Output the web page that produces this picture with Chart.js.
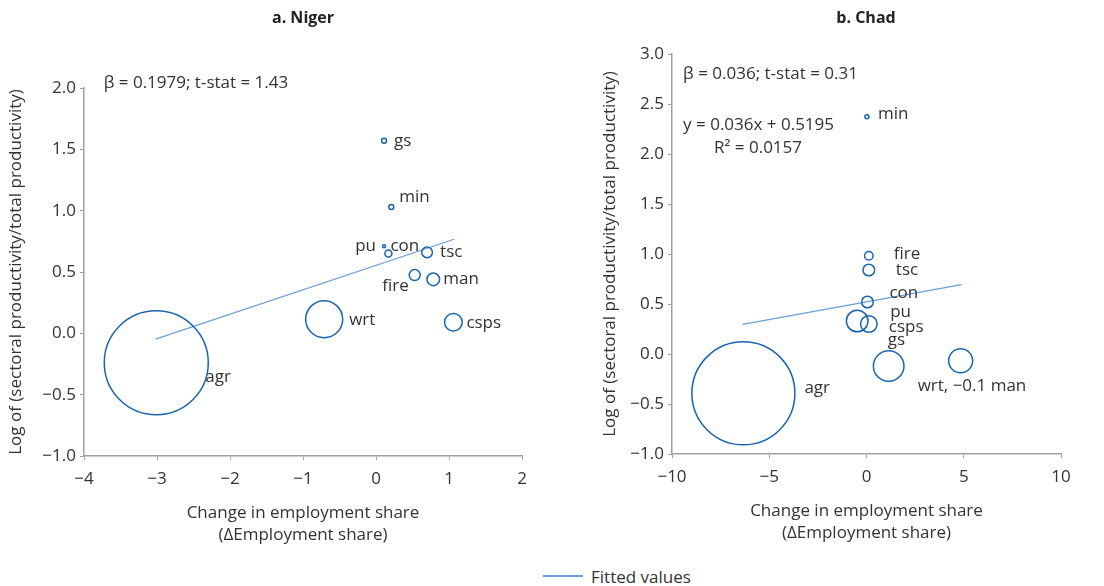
<!DOCTYPE html>
<html>
<head>
<meta charset="utf-8">
<script src="https://cdn.jsdelivr.net/npm/chart.js@4"></script>
<style>
  body { margin: 0; background: #fff; width: 1104px; height: 586px; position: relative; overflow: hidden;
         font-family: 'Open Sans', sans-serif; color: #333; }
  .panel { position: absolute; top: 0; width: 552px; height: 560px; }
  .title { position: absolute; top: 7px; width: 200px; text-align: center; font-weight: bold; font-size: 16px; line-height: 20px; color: #222; }
  #legend { position: absolute; left: 543px; top: 564px; height: 24px; display: flex; align-items: center; font-size: 17px; }
  #legend span.line { display: inline-block; width: 40px; height: 1.5px; background: #6a9fd8; margin-right: 8px; }
</style>
</head>
<body>
<div class="panel" style="left:0"><canvas id="niger" width="552" height="560"></canvas></div>
<div class="panel" style="left:552px"><canvas id="chad" width="552" height="560"></canvas></div>
<div class="title" style="left:203px">a. Niger</div>
<div class="title" style="left:766px">b. Chad</div>
<div id="legend"><span class="line"></span>Fitted values</div>
<script>
// Niger
const nigerSectors = ['gs', 'min', 'pu', 'con', 'tsc', 'fire', 'man', 'wrt', 'csps', 'agr'];
const nigerShareChange = [0.11, 0.21, 0.11, 0.17, 0.70, 0.53, 0.785, -0.71, 1.06, -3.01];
const nigerLogProd = [1.57, 1.03, 0.71, 0.65, 0.66, 0.475, 0.44, 0.115, 0.09, -0.24];
const nigerBubble = [2.5, 2.5, 1.5, 3.5, 5.3, 5.5, 6.3, 18.5, 8.8, 52];
const nigerFitX = [-3.02, 1.07];
const nigerFitY = [-0.047, 0.767];

// Chad
const chadSectors = ['min', 'fire', 'tsc', 'con', 'pu', 'csps', 'gs', 'wrt, \u22120.1 man', 'agr'];
const chadShareChange = [0.02, 0.12, 0.12, 0.05, -0.48, 0.12, 1.14, 4.84, -6.33];
const chadLogProd = [2.373, 0.983, 0.84, 0.52, 0.33, 0.30, -0.12, -0.067, -0.393];
const chadBubble = [2, 4.3, 5.8, 5.8, 10.8, 8.3, 15.3, 12, 51.5];
const chadFitX = [-6.37, 4.89];
const chadFitY = [0.297, 0.693];

const xTitle = ['Change in employment share', '(\u0394Employment share)'];
const yTitle = 'Log of (sectoral productivity/total productivity)';

// label offsets from bubble centre (px) and alignment
const nigerLabelPos = [[10, 0], [8, -10], [-8, 0, 'right'], [2, -7], [13, 0], [-6, 11, 'right'], [10, 0], [25, 1], [13, 1], [49, 14]];
const chadLabelPos = [[11, -3], [25, -2], [27, 0], [22, -9], [33, -9], [20, 3], [-1, -26], [-43, 25], [61, -5]];

const nigerNotes = [{ text: '\u03b2 = 0.1979; t-stat = 1.43', x: -3.73, y: 2.04 }];
const chadNotes = [
  { text: '\u03b2 = 0.036; t-stat = 0.31', x: -9.43, y: 2.8 },
  { text: 'y = 0.036x + 0.5195', x: -9.43, y: 2.29 },
  { text: 'R\u00b2 = 0.0157', x: -7.84, y: 2.06 }
];

const bubbleColor = '#1a64ae';
const fitColor = '#6a9fd8';
const axisColor = '#a0a0a0';
const textColor = '#333';

Chart.defaults.font.family = "'Open Sans', sans-serif";
Chart.defaults.color = textColor;

const minus = s => s.replace('-', '\u2212');

function makeChart(id, d) {
  const labelPlugin = {
    id: 'labels_' + id,
    afterDatasetsDraw(chart) {
      const ctx = chart.ctx;
      const meta = chart.getDatasetMeta(0);
      ctx.save();
      ctx.font = "17px 'Open Sans'";
      ctx.fillStyle = textColor;
      ctx.textBaseline = 'middle';
      d.labels.forEach((t, i) => {
        const p = meta.data[i];
        const [dx, dy, align] = d.labelPos[i];
        ctx.textAlign = align || 'left';
        ctx.fillText(t, p.x + dx, p.y + dy);
      });
      ctx.textAlign = 'left';
      d.notes.forEach(n => {
        ctx.fillText(n.text, chart.scales.x.getPixelForValue(n.x), chart.scales.y.getPixelForValue(n.y));
      });
      ctx.restore();
    }
  };

  return new Chart(document.getElementById(id), {
    type: 'bubble',
    data: {
      datasets: [
        {
          data: d.x.map((x, i) => ({ x: x, y: d.y[i], r: d.r[i] })),
          borderColor: bubbleColor,
          backgroundColor: 'rgba(0,0,0,0)',
          borderWidth: 1.5,
          clip: false
        },
        {
          type: 'line',
          data: d.fitX.map((x, i) => ({ x: x, y: d.fitY[i] })),
          borderColor: fitColor,
          borderWidth: 1.2,
          pointRadius: 0,
          fill: false,
          clip: false
        }
      ]
    },
    options: {
      responsive: false,
      animation: false,
      events: [],
      layout: { padding: d.pad, autoPadding: false },
      plugins: { legend: { display: false }, tooltip: { enabled: false } },
      scales: {
        x: {
          type: 'linear',
          min: d.xMin, max: d.xMax,
          ticks: { stepSize: d.xStep, font: { size: 17 }, padding: 9, color: textColor,
                   callback: v => minus(String(v)) },
          grid: { drawOnChartArea: false, tickLength: 4, color: axisColor },
          border: { color: axisColor, width: 1.5 },
          title: { display: true, text: xTitle, font: { size: 17, lineHeight: 1.3 }, color: textColor, padding: 0 },
          afterFit: s => { s.height = 90; }
        },
        y: {
          type: 'linear',
          min: d.yMin, max: d.yMax,
          ticks: { stepSize: 0.5, font: { size: 17 }, padding: 4, color: textColor,
                   callback: v => minus(v.toFixed(1)) },
          grid: { drawOnChartArea: false, tickLength: 4, color: axisColor },
          border: { color: axisColor, width: 1.5 },
          title: { display: true, text: yTitle, font: { size: 17, lineHeight: 1.3 }, color: textColor, padding: { top: 5, bottom: 0 } },
          afterFit: s => { s.width = d.yWidth; }
        }
      }
    },
    plugins: [labelPlugin]
  });
}

makeChart('niger', {
  x: nigerShareChange, y: nigerLogProd, r: nigerBubble,
  fitX: nigerFitX, fitY: nigerFitY,
  labels: nigerSectors, labelPos: nigerLabelPos, notes: nigerNotes,
  xMin: -4, xMax: 2, xStep: 1, yMin: -1, yMax: 2,
  pad: { left: 0, top: 88, right: 30, bottom: 14 }, yWidth: 84
});

makeChart('chad', {
  x: chadShareChange, y: chadLogProd, r: chadBubble,
  fitX: chadFitX, fitY: chadFitY,
  labels: chadSectors, labelPos: chadLabelPos, notes: chadNotes,
  xMin: -10, xMax: 10, xStep: 5, yMin: -1, yMax: 3,
  pad: { left: 42, top: 54, right: 43, bottom: 16 }, yWidth: 78
});
</script>
</body>
</html>
